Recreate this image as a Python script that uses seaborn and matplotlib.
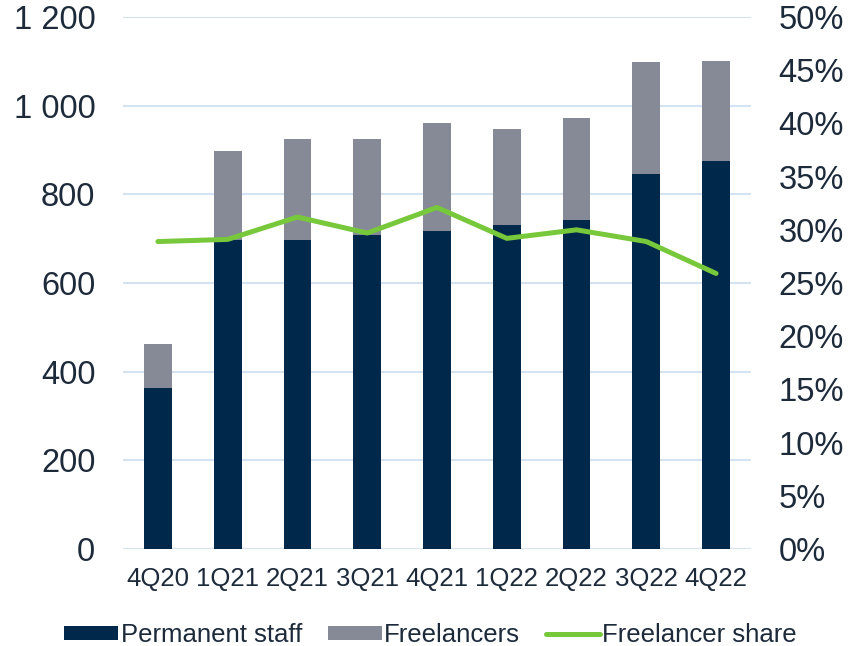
import numpy as np
import pandas as pd
import matplotlib
matplotlib.use("Agg")
import matplotlib.pyplot as plt
import seaborn as sns
from matplotlib.patches import Patch
from matplotlib.lines import Line2D
from matplotlib.ticker import FixedLocator, FixedFormatter

# ---- data ----
quarters = ["4Q20", "1Q21", "2Q21", "3Q21", "4Q21", "1Q22", "2Q22", "3Q22", "4Q22"]
permanent = [364, 696, 697, 709, 717, 731, 742, 845, 875]
freelancers = [99, 202, 227, 215, 244, 217, 230, 253, 226]
freelancer_share = [28.9, 29.1, 31.2, 29.7, 32.1, 29.2, 30.0, 28.9, 25.9]

left_ticks = [0, 200, 400, 600, 800, 1000, 1200]
left_tick_labels = ["0", "200", "400", "600", "800", "1 000", "1 200"]
right_ticks = [0, 5, 10, 15, 20, 25, 30, 35, 40, 45, 50]
right_tick_labels = ["0%", "5%", "10%", "15%", "20%", "25%", "30%", "35%", "40%", "45%", "50%"]

NAVY = "#00284A"
GRAY = "#858A96"
GREEN = "#77C83A"
TEXT = "#1C2A3A"
GRID = "#D3E3F1"

sns.set_theme(style="white")
plt.rcParams["font.family"] = ["Liberation Sans", "DejaVu Sans"]

df = pd.DataFrame({
    "quarter": quarters,
    "permanent": permanent,
    "freelancers": freelancers,
    "share": freelancer_share,
})
df["total"] = df["permanent"] + df["freelancers"]
df["pos"] = np.arange(len(df))

fig = plt.figure(figsize=(8.61, 6.46), dpi=100)
ax = fig.add_axes([0.1429, 0.150, 0.7293, 0.8237])

sns.barplot(data=df, x="quarter", y="total", color=GRAY, saturation=1,
            width=0.4, ax=ax, zorder=2, edgecolor="none")
sns.barplot(data=df, x="quarter", y="permanent", color=NAVY, saturation=1,
            width=0.4, ax=ax, zorder=3, edgecolor="none")

ax.set_ylim(0, 1200)
ax.set_xlim(-0.5, len(quarters) - 0.5)
ax.yaxis.set_major_locator(FixedLocator(left_ticks))
ax.yaxis.set_major_formatter(FixedFormatter(left_tick_labels))
ax.grid(axis="y", color=GRID, linewidth=1.5, zorder=0)
ax.set_axisbelow(True)
ax.set_xlabel("")
ax.set_ylabel("")
for s in ax.spines.values():
    s.set_visible(False)
ax.tick_params(axis="y", length=0, pad=20, labelsize=23.5, labelcolor=TEXT)
ax.tick_params(axis="x", length=0, pad=13, labelsize=18.5, labelcolor=TEXT)

ax2 = ax.twinx()
sns.lineplot(data=df, x="pos", y="share", color=GREEN, linewidth=3.6,
             ax=ax2, zorder=5, solid_capstyle="round")
ax2.set_ylim(0, 50)
ax2.set_xlim(-0.5, len(quarters) - 0.5)
ax2.yaxis.set_major_locator(FixedLocator(right_ticks))
ax2.yaxis.set_major_formatter(FixedFormatter(right_tick_labels))
ax2.set_ylabel("")
ax2.set_xlabel("")
ax2.grid(False)
for s in ax2.spines.values():
    s.set_visible(False)
ax2.tick_params(axis="y", length=0, pad=20, labelsize=23.5, labelcolor=TEXT)

handles = [
    Patch(facecolor=NAVY, edgecolor="none", label="Permanent staff"),
    Patch(facecolor=GRAY, edgecolor="none", label="Freelancers"),
    Line2D([0], [0], color=GREEN, linewidth=3.6, label="Freelancer share"),
]
fig.legend(handles=handles, loc="center", bbox_to_anchor=(0.5, 0.017),
           ncol=3, frameon=False, fontsize=18.5, labelcolor=TEXT,
           handlelength=2.1, handleheight=0.5, handletextpad=0.1,
           columnspacing=1.0)

fig.savefig("out.png", dpi=100)
